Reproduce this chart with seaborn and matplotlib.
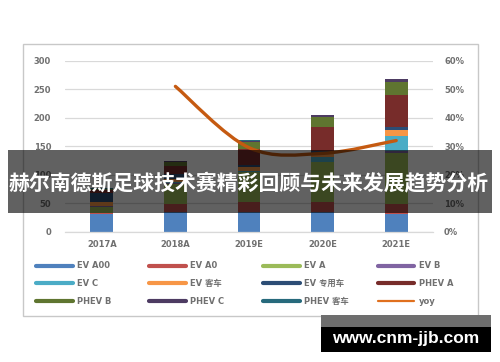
import numpy as np
import pandas as pd
import matplotlib
matplotlib.use('Agg')
import matplotlib.pyplot as plt
import seaborn as sns
from matplotlib.path import Path
from matplotlib.patches import PathPatch, Rectangle
from matplotlib.lines import Line2D

# ---------------- data ----------------
years = ['2017A', '2018A', '2019E', '2020E', '2021E']
series_names = ['EV A00', 'EV A0', 'EV A', 'EV B', 'EV C', 'EV 客车',
                'EV 专用车', 'PHEV A', 'PHEV B', 'PHEV C', 'PHEV 客车']
ev_a00 = [31, 35, 35, 35, 32]
ev_a0 = [2.5, 13, 17, 17, 17]
ev_a = [10.5, 36, 52, 70, 89]
ev_b = [0.5, 1, 1, 1, 3]
ev_c = [0.3, 2, 2, 8, 27]
ev_bus = [8, 6, 6, 5, 10]
ev_special = [16, 8, 5, 6, 5]
phev_a = [5, 14, 28, 42, 56]
phev_b = [1.5, 8, 12, 17, 23]
phev_c = [0.5, 1.5, 2, 3, 6]
phev_bus = [0.3, 0.3, 0.3, 0.3, 0.3]
yoy = [np.nan, 51, 29.5, 27.5, 32]
yoy_name = 'yoy'
left_ticks = [0, 50, 100, 150, 200, 250, 300]
right_ticks = [0, 10, 20, 30, 40, 50, 60]
right_labels = ['0%', '10%', '20%', '30%', '40%', '50%', '60%']
title = '赫尔南德斯足球技术赛精彩回顾与未来发展趋势分析'
watermark = 'www.cnm-jjb.com'

colors = ['#4F81BD', '#C0504D', '#9BBB59', '#8064A2', '#4BACC6', '#F79646',
          '#2C4D75', '#772C2A', '#5F7530', '#4D3B62', '#276A7C']
yoy_color = '#C55A11'

sns.set_theme(style='white')
plt.rcParams['font.family'] = ['DejaVu Sans', 'Noto Sans CJK SC']
plt.rcParams['svg.fonttype'] = 'none'

W, H = 500, 362
fig = plt.figure(figsize=(5, 3.62), dpi=100)
fig.patch.set_facecolor('white')

def fx(px):
    return px / W

def fy(py):
    return 1 - py / H

ax = fig.add_axes([fx(65), fy(231.8), fx(433) - fx(65), fy(60.7) - fy(231.8)])

stack = np.array([ev_a00, ev_a0, ev_a, ev_b, ev_c, ev_bus, ev_special,
                  phev_a, phev_b, phev_c, phev_bus], dtype=float)
cum = np.cumsum(stack, axis=0)
for i in reversed(range(len(series_names))):
    df = pd.DataFrame({'year': years, 'v': cum[i]})
    sns.barplot(data=df, x='year', y='v', order=years, color=colors[i],
                width=0.31, saturation=1, errorbar=None, linewidth=0, ax=ax)

ax.set_ylim(0, 300)
ax.set_xlim(-0.5, len(years) - 0.5)
ax.set_yticks(left_ticks)
ax.set_yticklabels([str(t) for t in left_ticks])
ax.set_xlabel('')
ax.set_ylabel('')
ax.set_axisbelow(True)
ax.yaxis.grid(True, color='#D9D9D9', linewidth=0.9)
ax.xaxis.grid(False)
for s in ['top', 'left', 'right']:
    ax.spines[s].set_visible(False)
ax.spines['bottom'].set_color('#D9D9D9')
ax.spines['bottom'].set_linewidth(0.9)
ax.tick_params(axis='both', length=0, labelsize=6, labelcolor='#707070')
ax.tick_params(axis='y', pad=10)
ax.tick_params(axis='x', pad=6)
for lab in ax.get_xticklabels() + ax.get_yticklabels():
    lab.set_fontweight('bold')

ax2 = ax.twinx()
ax2.set_ylim(0, 60)
ax2.set_yticks(right_ticks)
ax2.set_yticklabels(right_labels)
for s in ax2.spines.values():
    s.set_visible(False)
ax2.tick_params(axis='y', length=0, labelsize=6, labelcolor='#707070', pad=8)
for lab in ax2.get_yticklabels():
    lab.set_fontweight('bold')
ax2.grid(False)

# smooth (Excel-like) curve through yoy points using Bezier segments
xs = np.arange(len(years), dtype=float)
P = np.array([(x, y) for x, y in zip(xs, yoy) if not np.isnan(y)])
verts = [P[0]]
codes = [Path.MOVETO]
n = len(P)
for i in range(n - 1):
    p0 = P[i - 1] if i > 0 else P[i]
    p1 = P[i]
    p2 = P[i + 1]
    p3 = P[i + 2] if i + 2 < n else P[i + 1]
    verts += [p1 + (p2 - p0) / 6, p2 - (p3 - p1) / 6, p2]
    codes += [Path.CURVE4] * 3
ax2.add_patch(PathPatch(Path(verts, codes), facecolor='none',
                        edgecolor=yoy_color, linewidth=2.4, capstyle='round'))

# chart border
fig.patches.append(Rectangle((fx(22.7), fy(315.7)), fx(478) - fx(22.7),
                             fy(44) - fy(315.7), transform=fig.transFigure,
                             facecolor='none', edgecolor='#C8C8C8',
                             linewidth=1.0, zorder=0.5))

# legend: 4 columns x 3 rows, row-major order as in reference
handles = [Line2D([], [], color=c, linewidth=3.0) for c in colors]
handles.append(Line2D([], [], color='#E0701E', linewidth=1.6))
labels = series_names + [yoy_name]
col_x = [36, 149.3, 263.3, 377.7]
for c in range(4):
    idx = [r * 4 + c for r in range(3)]
    leg = fig.legend([handles[k] for k in idx], [labels[k] for k in idx],
                     loc='center left', bbox_to_anchor=(fx(col_x[c]), fy(283.7)),
                     frameon=False, fontsize=6, handlelength=4.4,
                     handletextpad=0.5, borderpad=0, borderaxespad=0,
                     labelspacing=1.05, labelcolor='#707070')
    for t in leg.get_texts():
        t.set_fontweight('bold')

# dark banner with title
fig.patches.append(Rectangle((fx(8.3), fy(212.7)), fx(491.7) - fx(8.3),
                             fy(150) - fy(212.7), transform=fig.transFigure,
                             facecolor='black', alpha=0.62, edgecolor='none',
                             zorder=5))
fig.text(fx(249), fy(183.5), title, ha='center', va='center', color='white',
         fontsize=15, fontweight='bold', family=['Noto Sans CJK SC'], zorder=6)

# watermark
fig.patches.append(Rectangle((fx(321), fy(327.3)), fx(490.7) - fx(321),
                             fy(315) - fy(327.3), transform=fig.transFigure,
                             facecolor='#6E6E6E', edgecolor='none', zorder=5))
fig.patches.append(Rectangle((fx(321), fy(351.7)), fx(490.7) - fx(321),
                             fy(327.3) - fy(351.7), transform=fig.transFigure,
                             facecolor='black', edgecolor='none', zorder=5))
fig.text(fx(406), fy(338.5), watermark, ha='center', va='center',
         color='white', fontsize=12.5, fontweight='bold',
         family=['Liberation Sans'], zorder=6)

fig.savefig('out.png', dpi=100, facecolor='white')
